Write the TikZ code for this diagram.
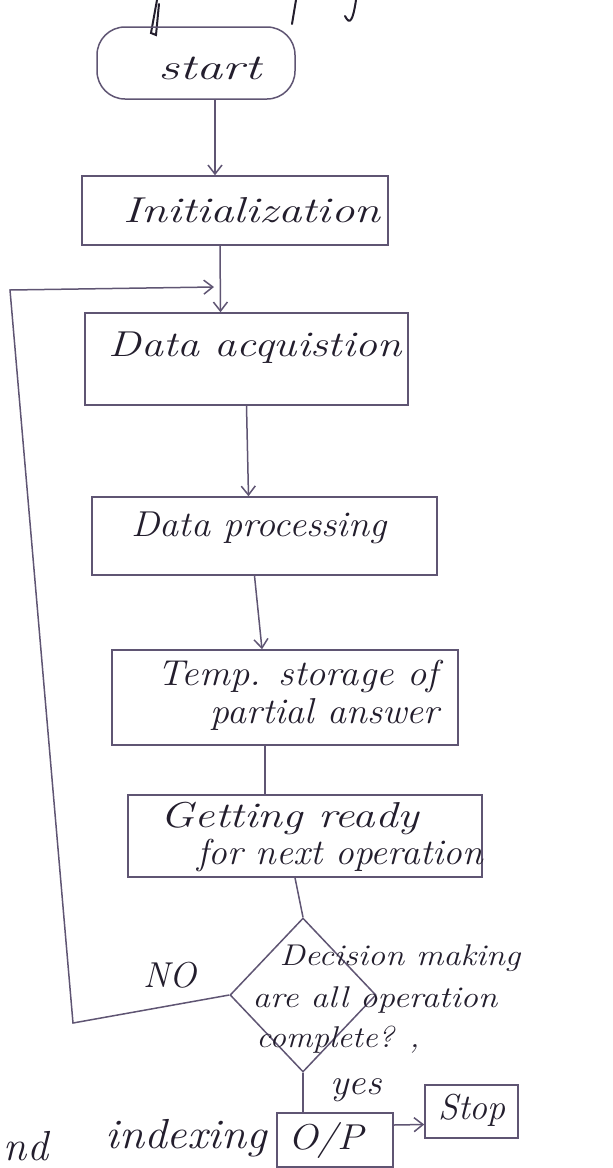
\documentclass[tikz,border=0pt]{standalone}
\usetikzlibrary{arrows.meta,shapes.geometric}
\definecolor{ink}{RGB}{35,30,45}
\definecolor{pencil}{RGB}{95,85,115}
% widen a handwritten-looking word horizontally
\newcommand{\hwide}[2]{\scalebox{#1}[1]{#2}}
\begin{document}
\begin{tikzpicture}[x=1pt,y=-1pt,
  box/.style={draw=pencil, line width=1.5pt, inner sep=0pt},
  hand/.style={text=ink, font=\itshape\fontsize{36}{36}\selectfont, inner sep=0pt},
  small/.style={hand, font=\itshape\fontsize{30}{30}\selectfont},
  big/.style={hand, font=\itshape\fontsize{42}{42}\selectfont},
  flow/.style={draw=pencil, line width=1.5pt, -{Straight Barb[length=9pt,width=14pt,line width=1.5pt]}},
  link/.style={draw=pencil, line width=1.5pt},
  scrib/.style={draw=ink, line width=2pt, line cap=round}]
\useasboundingbox (0,0) rectangle (613,1168);

% stray strokes along the top edge
\draw[scrib] (157,0) -- (151,33) -- (156,35) -- (159,4);
\draw[scrib] (296,0) -- (292,24);
\draw[scrib] (356,0) .. controls (353,20) and (350,26) .. (345,16);

% process boxes
\node[box, rounded corners=28pt, minimum width=198pt, minimum height=72pt] (start) at (196,63) {};
\node[box, minimum width=306pt, minimum height=69pt] (init) at (235,210.5) {};
\node[box, minimum width=323pt, minimum height=92pt] (acq) at (246.5,359) {};
\node[box, minimum width=345pt, minimum height=78pt] (proc) at (264.5,536) {};
\node[box, minimum width=346pt, minimum height=95pt] (temp) at (285,697.5) {};
\node[box, minimum width=354pt, minimum height=82pt] (ready) at (305,836) {};
\node[box, shape=diamond, aspect=1, minimum width=146pt, minimum height=154pt] (dec) at (303,995) {};
\node[box, minimum width=116pt, minimum height=54pt] (op) at (335,1140) {};
\node[box, minimum width=93pt, minimum height=53pt] (stop) at (471.5,1111.5) {};

% texts
\node[hand] (tstart) at (210,68) {\hwide{1.45}{start}};
\node[hand] (tinit) at (252,210) {\hwide{1.3}{Initialization}};
\node[hand] (tacq) at (255,348) {\hwide{1.22}{Data acquistion}};
\node[hand] (tproc) at (259,528) {\hwide{1.06}{Data processing}};
\node[hand] (ttemp1) at (298,676) {\hwide{1.07}{Temp. storage of}};
\node[hand] (ttemp2) at (325,714) {\hwide{1.05}{partial answer}};
\node[hand] (tready1) at (290,818) {\hwide{1.25}{Getting ready}};
\node[hand] (tready2) at (340,855) {\hwide{1.04}{for next operation}};
\node[small] (tdec1) at (400,958) {\hwide{1.14}{Decision making}};
\node[small] (tdec2) at (375,1000) {\hwide{1.16}{are all operation}};
\node[small] (tdec3) at (338,1040) {\hwide{1.1}{complete? ,}};
\node[hand] (tno) at (170,975) {NO};
\node[hand] (tyes) at (356,1090) {\hwide{1.07}{yes}};
\node[hand] (top) at (326,1140) {\hwide{1.1}{O/P}};
\node[hand] (tstop) at (472,1110) {Stop};
\node[big] (tidx) at (186,1138) {\hwide{1.08}{indexing}};
\node[big] (tnd) at (26,1146) {nd};

% connectors
\draw[flow] ([xshift=19pt]start.south) -- ([xshift=-20pt]init.north);
\draw[flow] ([xshift=-15pt]init.south) -- ([xshift=-26pt]acq.north);
\draw[flow] (acq.south) -- ([xshift=-16pt]proc.north);
\draw[flow] ([xshift=-10pt]proc.south) -- ([xshift=-23pt]temp.north);
\draw[link] ([xshift=-20pt]temp.south) -- ([xshift=-40pt]ready.north);
\draw[link] ([xshift=-10pt]ready.south) -- (dec.north);
\draw[link] (dec.south) -- ([xshift=-32pt]op.north);
\draw[flow] ([yshift=15pt]op.east) -- ([yshift=-13pt]stop.west);
\draw[link] ([xshift=-2pt]op.south) -- ++(0,12);

% return path for the NO branch
\coordinate (lowcorner) at (73,1023);
\coordinate (highcorner) at (10,290);
\coordinate (loopin) at (214,287);
\draw[flow] (dec.west) -- (lowcorner) -- (highcorner) -- (loopin);
\end{tikzpicture}
\end{document}
